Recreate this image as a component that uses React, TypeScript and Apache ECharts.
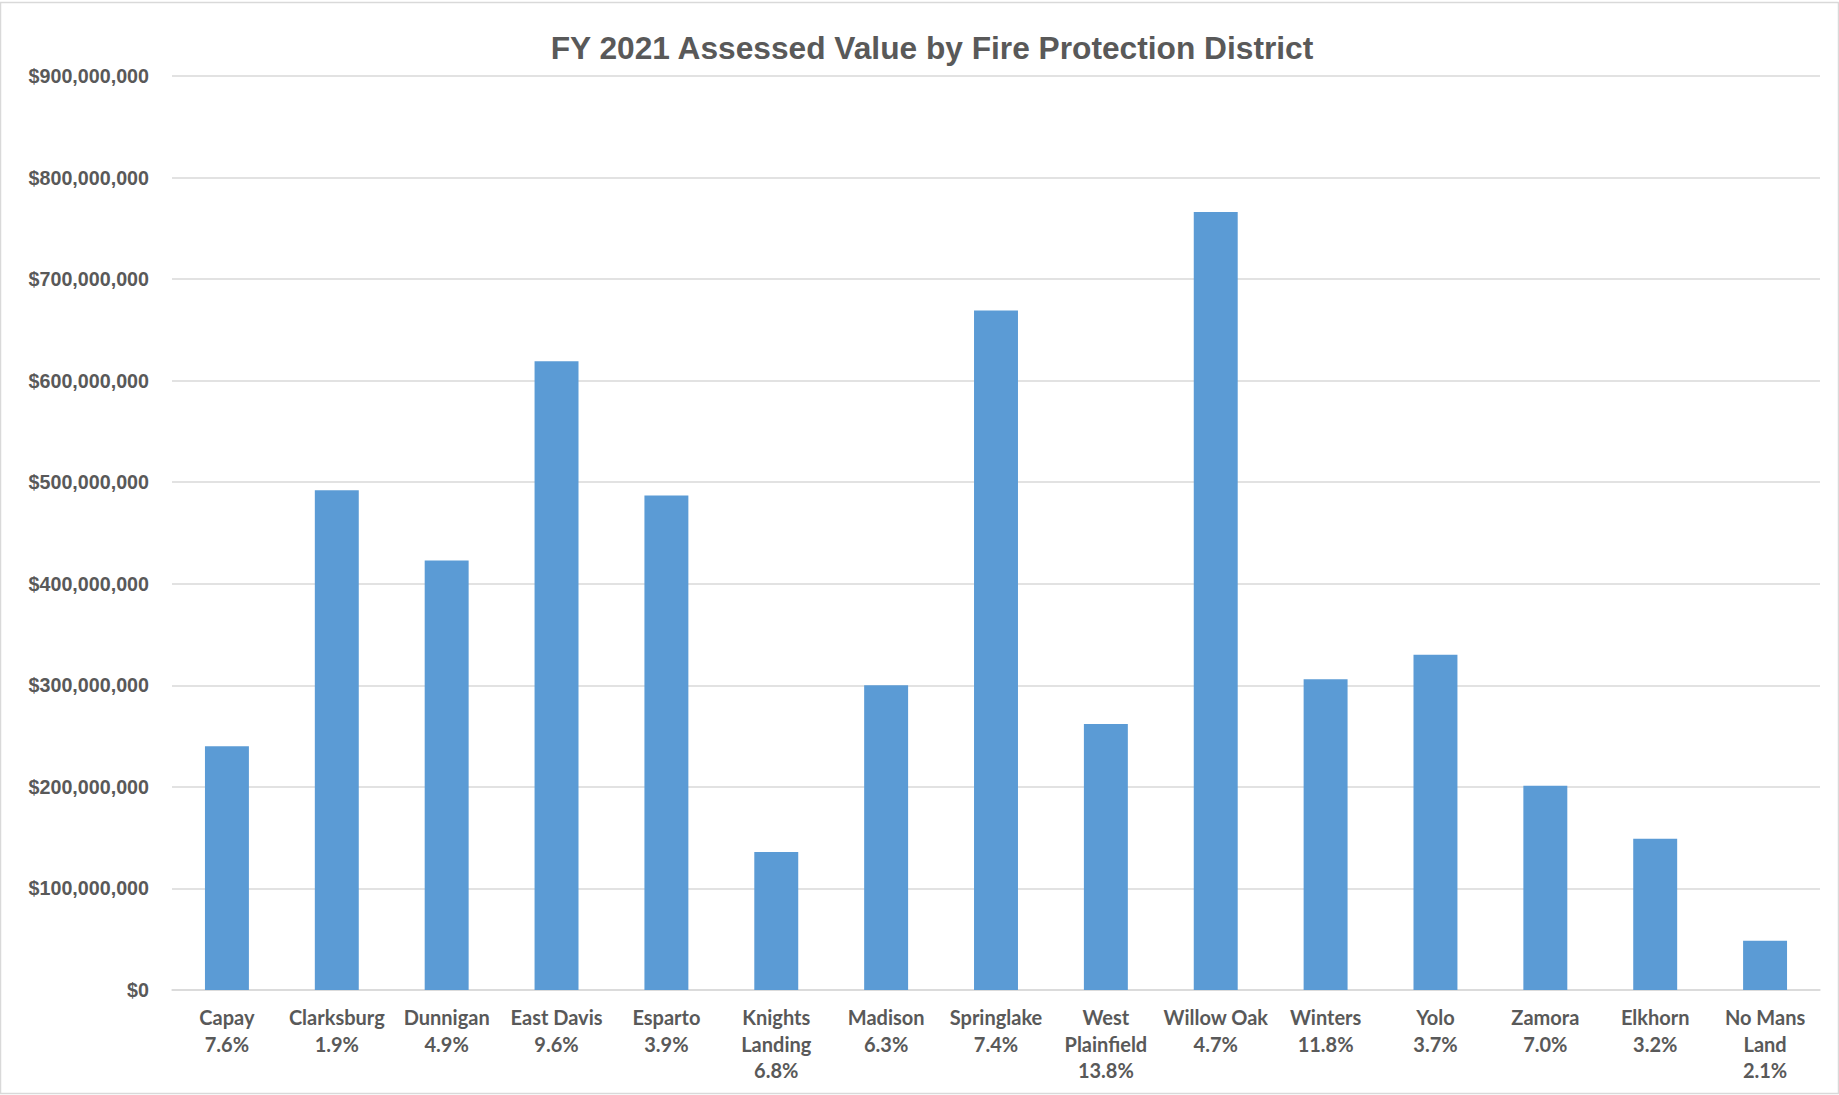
import React, { useEffect, useRef } from "react";
import * as echarts from "echarts";

const districts = [
  "Capay", "Clarksburg", "Dunnigan", "East Davis", "Esparto", "Knights\nLanding", "Madison",
  "Springlake", "West\nPlainfield", "Willow Oak", "Winters", "Yolo", "Zamora", "Elkhorn", "No Mans\nLand",
];
const shares = ["7.6%", "1.9%", "4.9%", "9.6%", "3.9%", "6.8%", "6.3%", "7.4%", "13.8%", "4.7%", "11.8%", "3.7%", "7.0%", "3.2%", "2.1%"];
const assessedValues = [
  240000000, 492000000, 423000000, 619000000, 487000000, 136000000, 300000000,
  669000000, 262000000, 766000000, 306000000, 330000000, 201000000, 149000000, 48500000,
];
const titleText = "FY 2021 Assessed Value by Fire Protection District";

export default function App() {
  const ref = useRef<HTMLDivElement>(null);
  useEffect(() => {
    if (!ref.current) return;
    const chart = echarts.init(ref.current, null, { renderer: "svg" });
    const cats = districts.map((d, i) => d + "\n" + shares[i]);
    chart.setOption({
      animation: false,
      backgroundColor: "#ffffff",
      title: {
        text: titleText,
        left: 927,
        top: 27,
        textAlign: "center",
        textStyle: { fontFamily: "Liberation Sans, Arial, sans-serif", fontWeight: "bold", fontSize: 31.7, color: "#595959" },
      },
      graphic: [
        { type: "rect", shape: { x: 0.5, y: 2.5, width: 1838, height: 1091 }, style: { fill: "none", stroke: "#d9d9d9", lineWidth: 1.5 }, silent: true },
      ],
      grid: { left: 172, right: 19, top: 76, bottom: 105 },
      xAxis: {
        type: "category",
        data: cats,
        axisLine: { show: true, lineStyle: { color: "#d9d9d9", width: 1.5 } },
        axisTick: { show: false },
        axisLabel: {
          interval: 0,
          margin: 14,
          fontFamily: "Lato, Open Sans, sans-serif",
          fontWeight: "bold",
          fontSize: 20,
          lineHeight: 26.5,
          color: "#595959",
        },
      },
      yAxis: {
        type: "value",
        min: 0,
        max: 900000000,
        interval: 100000000,
        axisLine: { show: false },
        axisTick: { show: false },
        splitLine: { lineStyle: { color: "#d9d9d9", width: 1.5 } },
        axisLabel: {
          margin: 23,
          fontFamily: "Liberation Sans, Arial, sans-serif",
          fontWeight: "bold",
          fontSize: 19.7,
          color: "#595959",
          formatter: (v: number) => "$" + v.toLocaleString("en-US"),
        },
      },
      series: [
        {
          type: "bar",
          data: assessedValues,
          barWidth: "40%",
          itemStyle: { color: "#5b9bd5" },
        },
      ],
    });
    return () => chart.dispose();
  }, []);
  return <div ref={ref} style={{ position: "fixed", left: 0, top: 0, width: 1839, height: 1095 }} />;
}
